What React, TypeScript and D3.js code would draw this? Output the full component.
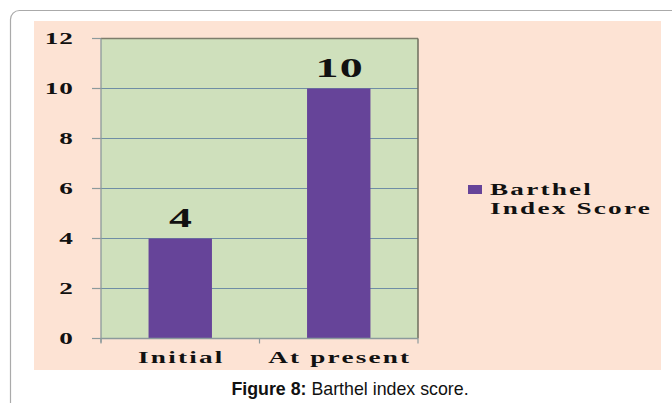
import React from "react";
import * as d3 from "d3";

const categories = ["Initial", "At present"];
const scores = [4, 10];
const yTicks = [0, 2, 4, 6, 8, 10, 12];
const seriesName = ["Barthel", "Index Score"];

const W = 672;
const H = 403;
const plot = { left: 101, top: 38.5, right: 418, bottom: 338.5 };
const SX = 1.7;
const serif = "'Liberation Serif', 'Times New Roman', serif";

function Stretch({ x, y, anchor, size, spacing = 1.3, children }: any) {
  return (
    <text
      transform={`translate(${x},${y}) scale(${SX},1)`}
      textAnchor={anchor}
      fontFamily={serif}
      fontWeight="bold"
      fontSize={size}
      letterSpacing={spacing}
      fill="#111"
    >
      {children}
    </text>
  );
}

export default function App() {
  const x = d3
    .scaleBand()
    .domain(categories)
    .range([plot.left, plot.right])
    .paddingInner(0.6)
    .paddingOuter(0.3);
  const y = d3.scaleLinear().domain([0, 12]).range([plot.bottom, plot.top]);
  const step = x.step();
  const xEdges = [plot.left, plot.left + step, plot.right];

  return (
    <svg
      width={W}
      height={H}
      style={{ position: "absolute", left: 0, top: 0, background: "#fff" }}
    >
      <rect x={10.5} y={10.5} width={700} height={420} rx={9} fill="#fff" stroke="#aaa" strokeWidth={1.2} />
      <rect x={34} y={21} width={627} height={349} fill="#fde3d4" />
      <rect x={plot.left} y={plot.top} width={plot.right - plot.left} height={plot.bottom - plot.top} fill="#cfe0bc" />

      {yTicks.filter(t => t > 0 && t < 12).map(t => (
        <line key={t} x1={plot.left} x2={plot.right} y1={y(t)} y2={y(t)} stroke="#6f8ea5" strokeWidth={1.2} />
      ))}
      {/* top and right border */}
      <line x1={plot.left} x2={plot.right} y1={plot.top} y2={plot.top} stroke="#7e7d6c" strokeWidth={1.3} />
      <line x1={plot.right} x2={plot.right} y1={plot.top} y2={plot.bottom} stroke="#6e6e5e" strokeWidth={1.5} />

      {categories.map((c, i) => (
        <rect key={c} x={x(c)} y={y(scores[i])} width={x.bandwidth()} height={plot.bottom - y(scores[i])} fill="#664499" />
      ))}

      {/* axes */}
      <line x1={plot.left} x2={plot.left} y1={plot.top} y2={plot.bottom + 4} stroke="#8c9a9c" strokeWidth={1.3} />
      <line x1={plot.left} x2={plot.right} y1={plot.bottom} y2={plot.bottom} stroke="#8c9a9c" strokeWidth={1.3} />
      {yTicks.map(t => (
        <line key={t} x1={plot.left - 9} x2={plot.left} y1={y(t)} y2={y(t)} stroke="#8c9a9c" strokeWidth={1.2} />
      ))}
      {xEdges.map((e, i) => (
        <line key={i} x1={e} x2={e} y1={plot.bottom} y2={plot.bottom + 5} stroke="#8c9a9c" strokeWidth={1.2} />
      ))}

      {yTicks.map(t => (
        <Stretch key={t} x={74} y={y(t) + 5.5} anchor="end" size={16} spacing={0.6}>
          {t}
        </Stretch>
      ))}
      {categories.map(c => (
        <Stretch key={c} x={(x(c) as number) + x.bandwidth() / 2 + 1} y={363} anchor="middle" size={16}>
          {c}
        </Stretch>
      ))}
      {categories.map((c, i) => (
        <Stretch key={c} x={(x(c) as number) + x.bandwidth() / 2 + 1} y={y(scores[i]) - 12} anchor="middle" size={27} spacing={0.8}>
          {scores[i]}
        </Stretch>
      ))}

      <rect x={468} y={185} width={14} height={9} fill="#664499" />
      {seriesName.map((s, i) => (
        <Stretch key={s} x={490} y={195 + i * 19} anchor="start" size={16}>
          {s}
        </Stretch>
      ))}

      <text x={350} y={395} textAnchor="middle" fontFamily="'Liberation Sans', Arial, sans-serif" fontSize={17.8} fill="#111">
        <tspan fontWeight="bold">Figure 8:</tspan> Barthel index score.
      </text>
    </svg>
  );
}
